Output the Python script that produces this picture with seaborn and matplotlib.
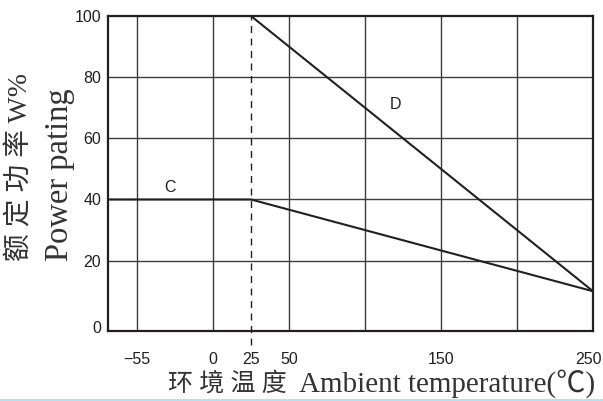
import numpy as np
import matplotlib
matplotlib.use("Agg")
import matplotlib.pyplot as plt
import seaborn as sns
import pandas as pd
from matplotlib import font_manager
from matplotlib.lines import Line2D
from matplotlib.transforms import ScaledTranslation

# ---- data ----
temps = [-76, 25, 250]          # ambient temperature (deg C)
curve_c = [40, 40, 10]           # rated power % for curve C
curve_d = [100, 100, 10]         # rated power % for curve D
x_ticks = [-55, 0, 25, 50, 150, 250]
x_tick_labels = ["−55", "0", "25", "50", "150", "250"]
x_grid = [-55, 0, 50, 100, 150, 200]
y_ticks = [0, 20, 40, 60, 80, 100]
y_grid = [20, 40, 60, 80]
c_label_pos = (-31, 44)
d_label_pos = (120, 71)

sns.set_theme(style="white")
names = {f.name for f in font_manager.fontManager.ttflist}
tick_font = "Liberation Sans Narrow" if "Liberation Sans Narrow" in names else "Liberation Sans"
serif_cjk = ["Liberation Serif", "Noto Sans CJK SC", "DejaVu Sans"]
plt.rcParams["font.family"] = [tick_font, "DejaVu Sans"]

fig = plt.figure(figsize=(6.03, 4.01), dpi=100)
ax = fig.add_axes([108 / 603, 1 - 331 / 401, 485 / 603, 315 / 401])

def fwd(x):
    x = np.asarray(x, dtype=float)
    return np.where(x < 0, x * 50 / 55, x)

def inv(x):
    x = np.asarray(x, dtype=float)
    return np.where(x < 0, x * 55 / 50, x)

ax.set_xscale("function", functions=(fwd, inv))
ax.set_xlim(-76, 250)
ax.set_ylim(-3, 100)

ink = "#231f20"
grid_c = "#3d3b3b"
for g in x_grid:
    ax.axvline(g, color=grid_c, lw=1.0, zorder=1)
for g in y_grid:
    ax.axhline(g, color=grid_c, lw=1.0, zorder=1)
ax.axvline(25, ymin=-0.045, ymax=1, color=ink, lw=1.0, ls=(0, (5, 4)), zorder=2, clip_on=False)

df = pd.DataFrame({"T": temps * 2, "P": curve_c + curve_d,
                   "curve": ["C"] * 3 + ["D"] * 3})
sns.lineplot(data=df, x="T", y="P", units="curve", estimator=None,
             color=ink, lw=1.5, ax=ax, zorder=3, legend=False)

ax.text(*c_label_pos, "C", fontsize=11.5, color=ink, ha="center", va="center")
ax.text(*d_label_pos, "D", fontsize=11.5, color=ink, ha="center", va="center")

ax.set_xticks(x_ticks)
ax.set_xticklabels(x_tick_labels)
ax.set_yticks(y_ticks)
ax.set_yticklabels([str(v) for v in y_ticks])
ax.tick_params(axis="both", length=0, labelsize=11.5, colors=ink)
ax.tick_params(axis="x", pad=15)
ax.tick_params(axis="y", pad=5)
for lab in ax.get_xticklabels() + ax.get_yticklabels():
    lab.set_fontfamily([tick_font, "DejaVu Sans"])
ax.set_xlabel("")
ax.set_ylabel("")

# last x label sits at the right border, nudged so it stays inside the image
last = ax.xaxis.get_major_ticks()[-1].label1
last.set_horizontalalignment("right")
last.set_transform(last.get_transform() + ScaledTranslation(9 / 100, 0, fig.dpi_scale_trans))
zero = ax.yaxis.get_major_ticks()[0].label1
zero.set_transform(zero.get_transform() + ScaledTranslation(0, -5 / 100, fig.dpi_scale_trans))

for s in ax.spines.values():
    s.set_color(ink)
    s.set_linewidth(1.6)
    s.set_visible(True)
ax.grid(False)

txt_c = "#333333"
fig.text(20 / 603, 1 - 167 / 401, "额 定 功 率 W%", rotation=90,
         ha="center", va="center", fontsize=20, color=txt_c, family=serif_cjk)
fig.text(60 / 603, 1 - 175 / 401, "Power pating", rotation=90,
         ha="center", va="center", fontsize=23.5, color=txt_c, family=serif_cjk)
fig.text(168 / 603, 1 - 384 / 401, "环 境 温 度",
         ha="left", va="center", fontsize=18, color=txt_c, family=serif_cjk)
fig.text(299 / 603, 1 - 384 / 401, "Ambient temperature(℃)",
         ha="left", va="center", fontsize=21, color=txt_c, family=serif_cjk)

fig.add_artist(Line2D([0, 1], [1.5 / 401, 1.5 / 401], transform=fig.transFigure,
                      color="#a6dcf2", lw=1.2))

fig.savefig("out.png", dpi=100)
